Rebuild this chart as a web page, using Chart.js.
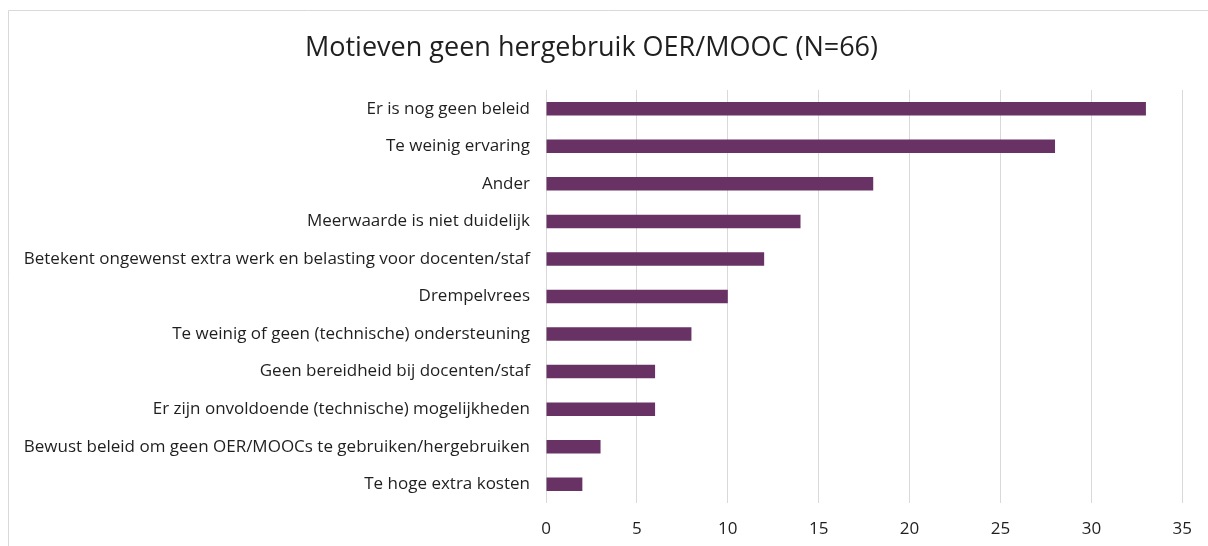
<!DOCTYPE html>
<html>
<head>
<meta charset="utf-8">
<script src="https://cdn.jsdelivr.net/npm/chart.js@4/dist/chart.umd.min.js"></script>
<style>
  html, body { margin: 0; padding: 0; background: #fff; }
  #wrap { width: 1208px; height: 546px; position: relative; }
</style>
</head>
<body>
<div id="wrap"><canvas id="c" width="1208" height="546"></canvas></div>
<script>
const title = "Motieven geen hergebruik OER/MOOC (N=66)";
const categories = [
  "Er is nog geen beleid",
  "Te weinig ervaring",
  "Ander",
  "Meerwaarde is niet duidelijk",
  "Betekent ongewenst extra werk en belasting voor docenten/staf",
  "Drempelvrees",
  "Te weinig of geen (technische) ondersteuning",
  "Geen bereidheid bij docenten/staf",
  "Er zijn onvoldoende (technische) mogelijkheden",
  "Bewust beleid om geen OER/MOOCs te gebruiken/hergebruiken",
  "Te hoge extra kosten"
];
const values = [33, 28, 18, 14, 12, 10, 8, 6, 6, 3, 2];
const xTicks = [0, 5, 10, 15, 20, 25, 30, 35];

const FONT = "'Open Sans', 'Noto Sans', sans-serif";

const frame = {
  id: 'frame',
  beforeDraw(chart) {
    const ctx = chart.ctx;
    ctx.save();
    ctx.fillStyle = '#fff';
    ctx.fillRect(0, 0, chart.width, chart.height);
    ctx.strokeStyle = '#d9d9d9';
    ctx.lineWidth = 1;
    ctx.beginPath();
    ctx.moveTo(8.5, 560);
    ctx.lineTo(8.5, 10.5);
    ctx.lineTo(1220, 10.5);
    ctx.stroke();
    ctx.restore();
  }
};

new Chart(document.getElementById('c'), {
  type: 'bar',
  data: {
    labels: categories,
    datasets: [{
      data: values,
      backgroundColor: '#683264',
      borderWidth: 0,
      barPercentage: 0.72,
      categoryPercentage: 0.5
    }]
  },
  options: {
    indexAxis: 'y',
    responsive: false,
    animation: false,
    devicePixelRatio: 1,
    layout: { padding: { left: 0, right: 25, top: 0, bottom: 0 } },
    plugins: {
      legend: { display: false },
      tooltip: { enabled: false },
      title: {
        display: true,
        text: title,
        color: '#1f1f1f',
        font: { family: FONT, size: 27, weight: 'normal', lineHeight: 1.2 },
        padding: { top: 32, bottom: 25.6 }
      }
    },
    scales: {
      x: {
        min: 0,
        max: 35,
        afterBuildTicks: (s) => { s.ticks = xTicks.map(v => ({ value: v })); },
        grid: { color: '#d9d9d9', lineWidth: 1, drawTicks: false },
        border: { display: false },
        ticks: { color: '#1f1f1f', font: { family: FONT, size: 17 }, padding: 16 },
        afterFit: (s) => { s.height = 43; }
      },
      y: {
        grid: { display: false, drawTicks: false },
        border: { display: false },
        ticks: { color: '#1f1f1f', font: { family: FONT, size: 17 }, padding: 16, autoSkip: false },
        afterFit: (s) => { s.width = 546; }
      }
    }
  },
  plugins: [frame]
});
</script>
</body>
</html>
